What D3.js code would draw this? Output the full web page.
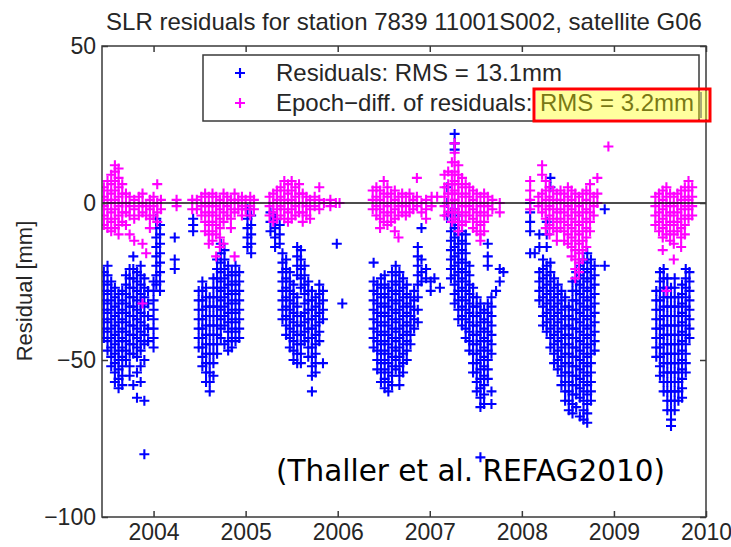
<!DOCTYPE html>
<html><head><meta charset="utf-8">
<script src="https://cdn.jsdelivr.net/npm/d3@7"></script>
<style>body{margin:0;background:#fff}svg{display:block}</style>
</head><body>
<svg id="c" width="731" height="547"></svg>
<script>
const titleText = "SLR residuals for station 7839 11001S002, satellite G06";
const yLabel = "Residual [mm]";
const xTicks = [2004, 2005, 2006, 2007, 2008, 2009, 2010];
const yTicks = [50, 0, -50, -100];
const legendLabels = ["Residuals: RMS = 13.1mm", "Epoch\u2212diff. of residuals: ", "RMS = 3.2mm"];
const note = "(Thaller et al. REFAG2010)";

// Residuals (blue): [epoch year, residuals in mm]
const residuals = [
 [2003.46,[-22,-25,-28,-31,-34,-37,-40,-43]],
 [2003.50,[-20,-23,-26,-29,-32,-35,-38,-41,-44,-47]],
 [2003.54,[-25,-28,-31,-34,-37,-40,-43,-46,-49,-52]],
 [2003.58,[-27,-30,-33,-36,-39,-42,-45,-48,-51,-54,-57]],
 [2003.62,[-29,-32,-35,-38,-41,-44,-47,-50,-53,-56,-59]],
 [2003.66,[-28,-31,-34,-37,-40,-43,-46,-49,-52,-55,-58]],
 [2003.70,[-23,-26,-29,-32,-35,-38,-41,-44,-47,-50]],
 [2003.74,[-21,-24,-27,-30,-33,-36,-39,-42,-45,-48,-52,-55]],
 [2003.78,[-17,-21,-24,-27,-30,-33,-36,-39,-42,-45,-48,-58]],
 [2003.82,[-22,-25,-28,-31,-34,-37,-40,-43,-46,-49,-54,-62]],
 [2003.86,[-20,-23,-26,-29,-32,-35,-38,-41,-44,-47,-52,-57]],
 [2003.90,[-24,-27,-30,-33,-36,-39,-42,-45,-50,-63,-80]],
 [2003.94,[-28,-32,-36,-40,-44]],
 [2004.00,[-25,-28,-31,-34,-37,-40,-43,-46]],
 [2004.03,[-5,-8,-11,-14,-17,-20,-23,-26]],
 [2004.07,[-7,-10,-13,-16,-19,-22,-25,-28]],
 [2004.23,[-11,-18,-21]],
 [2004.43,[-5,-7,-9]],
 [2004.49,[-28,-31,-34,-37,-40,-43,-46]],
 [2004.53,[-25,-28,-31,-34,-37,-40,-43,-46,-49,-52]],
 [2004.57,[-27,-30,-33,-36,-39,-42,-45,-48,-51,-54,-57]],
 [2004.61,[-30,-33,-36,-39,-42,-45,-48,-51,-54,-57,-60]],
 [2004.65,[-24,-27,-30,-33,-36,-39,-42,-45,-48,-51,-55]],
 [2004.69,[-18,-21,-24,-27,-30,-33,-36,-39,-42,-45,-48]],
 [2004.73,[-13,-16,-19,-22,-25,-28,-31,-34,-37,-40,-43]],
 [2004.77,[-15,-18,-21,-24,-27,-30,-33,-36,-39,-45]],
 [2004.81,[-20,-23,-26,-29,-32,-35,-38,-41,-44,-47]],
 [2004.85,[-22,-25,-28,-31,-34,-37,-40,-43,-46]],
 [2004.89,[-20,-23,-26,-29,-32,-35,-38,-41,-44]],
 [2004.93,[-22,-25,-28,-31,-34,-37,-40,-43]],
 [2005.02,[-2,-5,-8,-11,-14]],
 [2005.06,[-4,-7,-10,-13,-16]],
 [2005.27,[-3,-6,-9]],
 [2005.32,[-5,-8,-11,-14]],
 [2005.37,[-7,-10,-13]],
 [2005.40,[-16,-19,-22,-25,-28,-31,-34,-37]],
 [2005.44,[-18,-21,-24,-27,-30,-33,-36,-39,-42]],
 [2005.48,[-22,-25,-28,-31,-34,-37,-40,-43,-46]],
 [2005.52,[-26,-29,-32,-35,-38,-41,-44,-47,-50]],
 [2005.56,[-14,-17,-20,-23,-30,-33,-36,-39,-42,-45,-48,-51]],
 [2005.60,[-15,-18,-21,-24,-27,-36,-39,-42,-45,-48,-51]],
 [2005.64,[-20,-23,-26,-29,-32,-35,-38,-41,-44]],
 [2005.68,[-25,-28,-31,-34,-37,-40,-43,-46,-49]],
 [2005.72,[-28,-31,-34,-37,-40,-43,-46,-49,-52,-55,-60]],
 [2005.76,[-30,-33,-36,-39,-42,-45,-48,-51,-54]],
 [2005.80,[-26,-29,-32,-35,-38,-41,-44]],
 [2005.84,[-28,-31,-34,-37,-51]],
 [2005.99,[-13]],
 [2006.05,[-32]],
 [2006.39,[-19,-25,-28,-31,-34,-37,-40,-43,-46]],
 [2006.43,[-26,-29,-32,-35,-38,-41,-44,-47,-50,-53]],
 [2006.47,[-24,-27,-30,-33,-36,-39,-42,-45,-48,-51,-54,-57]],
 [2006.51,[-23,-26,-29,-32,-35,-38,-41,-44,-47,-50,-53,-56,-59]],
 [2006.55,[-27,-30,-33,-36,-39,-42,-45,-48,-51,-54,-57,-60]],
 [2006.59,[-22,-25,-28,-31,-34,-37,-40,-43,-46,-49,-52,-55,-58]],
 [2006.63,[-20,-23,-26,-29,-32,-35,-38,-41,-44,-47,-50,-53]],
 [2006.67,[-22,-25,-28,-31,-34,-37,-40,-43,-46,-49,-52,-55,-58]],
 [2006.71,[-24,-27,-30,-33,-36,-39,-42,-45,-48,-51,-54]],
 [2006.75,[-26,-29,-32,-35,-38,-41,-44,-47,-50]],
 [2006.79,[-30,-33,-36,-39,-42,-45]],
 [2006.83,[-28,-31,-34,-37,-40]],
 [2006.87,[-14,-17,-20,-23,-26,-30,-34,-38]],
 [2006.91,[-8,-18,-22,-25]],
 [2006.96,[-21,-24]],
 [2007.01,[-25,-28]],
 [2007.05,[-24]],
 [2007.11,[-27]],
 [2007.19,[5,0,-4]],
 [2007.23,[-3,-6,-9,-12,-15,-18,-21,-24]],
 [2007.27,[22,19,17,-2,-5,-8,-11,-14,-17,-20,-23,-26,-29,-32]],
 [2007.31,[-4,-7,-10,-13,-16,-19,-22,-25,-28,-31,-34,-37]],
 [2007.35,[-6,-9,-12,-15,-18,-21,-24,-27,-30,-33,-36,-39]],
 [2007.39,[-10,-13,-16,-19,-22,-25,-28,-31,-34,-37,-40,-43]],
 [2007.43,[-20,-23,-26,-29,-32,-35,-38,-41,-44,-47]],
 [2007.47,[-27,-30,-33,-36,-39,-42,-45,-48,-51,-54]],
 [2007.51,[-30,-33,-36,-39,-42,-45,-48,-51,-54,-57,-60]],
 [2007.55,[-32,-35,-38,-41,-44,-47,-50,-53,-56,-59,-62,-65,-81]],
 [2007.59,[-34,-37,-40,-43,-46,-49,-52,-55,-58,-61,-64]],
 [2007.63,[-13,-17,-20,-32,-35,-38,-41,-44,-47,-50,-53,-56]],
 [2007.67,[-30,-33,-36,-39,-42,-45,-48,-60,-64]],
 [2007.72,[-28]],
 [2007.76,[-21,-25]],
 [2007.80,[-22]],
 [2008.09,[0,-3,-6,-9,-16]],
 [2008.14,[-16]],
 [2008.19,[-10,-14,-22,-25,-28,-31]],
 [2008.23,[-18,-21,-24,-27,-30,-33,-36,-39]],
 [2008.27,[-6,-10,-14,-20,-23,-26,-29,-32,-35,-38,-41]],
 [2008.31,[8,5,-19,-22,-25,-28,-31,-34,-37,-40,-43,-46]],
 [2008.35,[-24,-27,-30,-33,-36,-39,-42,-45,-48,-51]],
 [2008.39,[-26,-29,-32,-35,-38,-41,-44,-47,-50,-53]],
 [2008.43,[-28,-31,-34,-37,-40,-43,-46,-49,-52,-55,-58]],
 [2008.47,[-30,-33,-36,-39,-42,-45,-48,-51,-54,-57,-60,-63]],
 [2008.51,[-33,-36,-39,-42,-45,-48,-51,-54,-57,-60,-63,-66]],
 [2008.55,[-25,-28,-31,-34,-37,-40,-43,-46,-49,-52,-55,-58,-61,-64,-67]],
 [2008.59,[-22,-25,-28,-31,-34,-37,-40,-43,-46,-49,-52,-55,-58,-61,-65]],
 [2008.63,[-20,-23,-26,-29,-32,-35,-38,-41,-44,-47,-50,-53,-56,-59,-62,-68]],
 [2008.67,[-18,-21,-24,-27,-30,-33,-36,-39,-42,-45,-48,-51,-54,-57,-60,-63,-66,-69]],
 [2008.71,[-16,-19,-22,-25,-28,-31,-34,-37,-40,-43,-46,-49,-52,-55,-58,-61,-64,-67,-70]],
 [2008.75,[-18,-21,-24,-27,-30,-33,-36,-39,-42,-45,-48,-51,-54,-57,-60,-63]],
 [2008.79,[-20,-23,-26,-29,-32,-35,-38,-41,-44,-47]],
 [2008.90,[-2,-20]],
 [2009.46,[-28,-31,-34,-37,-40,-43,-46,-49]],
 [2009.50,[-22,-25,-28,-31,-34,-37,-40,-43,-46,-49,-52,-55]],
 [2009.54,[-21,-24,-27,-30,-33,-36,-39,-42,-45,-48,-51,-54,-57,-60]],
 [2009.58,[-24,-27,-30,-33,-36,-39,-42,-45,-48,-51,-54,-57,-60,-63,-66]],
 [2009.62,[-27,-30,-33,-36,-39,-42,-45,-48,-51,-54,-57,-60,-63,-66,-69,-71]],
 [2009.66,[-24,-27,-30,-33,-36,-39,-42,-45,-48,-51,-54,-57,-60,-63,-66]],
 [2009.70,[-30,-33,-36,-39,-42,-45,-48,-51,-54,-57,-60,-63]],
 [2009.74,[-26,-29,-32,-35,-38,-41,-44,-47,-50,-53,-56,-59,-62]],
 [2009.78,[-21,-24,-27,-30,-33,-36,-39,-42,-45,-48,-51,-54]],
 [2009.82,[-22,-25,-28,-31,-34,-37,-40,-43]]
];

// Epoch-differences of residuals (magenta): [epoch year, values in mm]
const epochDiffs = [
 [2003.46,[5,2,-1,-4,-7]],
 [2003.50,[7,4,1,-2,-5,-8]],
 [2003.54,[9,6,3,0,-3,-6,-9]],
 [2003.58,[12,10,7,4,1,-2,-5,-8]],
 [2003.62,[11,8,5,2,-1,-4,-7,-10]],
 [2003.66,[6,3,0,-3,-6]],
 [2003.70,[3,0,-3,-7]],
 [2003.74,[2,-1,-4,-10]],
 [2003.79,[1,-2,-5,-12]],
 [2003.84,[2,-1,-4]],
 [2003.88,[3,0,-3,-13,-32]],
 [2003.92,[-1,-4,-16]],
 [2003.96,[1,-2,-5,-8]],
 [2004.00,[2,-1,-4]],
 [2004.04,[6,0,-3,-6]],
 [2004.08,[1,-2]],
 [2004.25,[1,-1]],
 [2004.42,[1,-2]],
 [2004.47,[1,-2]],
 [2004.52,[2,-1,-4]],
 [2004.56,[3,0,-3,-6,-9]],
 [2004.60,[2,-1,-4,-7,-10,-13]],
 [2004.64,[3,0,-3,-6,-9,-12]],
 [2004.68,[2,-1,-4,-7,-10,-17]],
 [2004.72,[1,-2,-5,-8,-11,-14]],
 [2004.76,[3,0,-3,-6,-13]],
 [2004.80,[2,-1,-4]],
 [2004.84,[1,-2,-5,-8]],
 [2004.88,[3,0,-3,-17]],
 [2004.92,[1,-2]],
 [2004.96,[2,-1,-4]],
 [2005.00,[1,-2]],
 [2005.05,[2,-1,-4]],
 [2005.09,[1,-2]],
 [2005.26,[2,-1,-4]],
 [2005.30,[3,0,-3,-6]],
 [2005.34,[4,1,-2,-5]],
 [2005.38,[5,2,-1,-4]],
 [2005.42,[7,4,1,-2,-5]],
 [2005.46,[6,3,0,-3,-6]],
 [2005.50,[7,4,1,-2,-5]],
 [2005.54,[5,2,-1,-4]],
 [2005.58,[6,3,0,-3]],
 [2005.62,[3,0,-3,-6]],
 [2005.66,[2,-1,-4]],
 [2005.70,[1,-2,-5]],
 [2005.75,[2,-1]],
 [2005.80,[5,1,-2]],
 [2005.85,[0]],
 [2005.92,[1,-1]],
 [2005.98,[0]],
 [2006.02,[0]],
 [2006.38,[4,1,-2]],
 [2006.42,[5,2,-1,-4]],
 [2006.46,[4,1,-2,-5,-8]],
 [2006.50,[7,3,0,-3,-6]],
 [2006.54,[5,2,-1,-4,-7]],
 [2006.58,[3,0,-3,-6]],
 [2006.62,[4,1,-2,-5,-9]],
 [2006.66,[2,-1,-4,-11]],
 [2006.70,[3,0,-3]],
 [2006.74,[2,-1,-4]],
 [2006.78,[3,0,-3]],
 [2006.82,[1,-2]],
 [2006.86,[8,2,-1]],
 [2006.91,[0,-3]],
 [2006.96,[1,-2,-5]],
 [2007.02,[2,-1]],
 [2007.08,[2]],
 [2007.16,[9,5,2,-1,-4]],
 [2007.20,[10,6,3,0,-3]],
 [2007.24,[13,9,6,3,0,-3,-6]],
 [2007.27,[19,16,13,10,7,4,1,-2,-5]],
 [2007.31,[12,9,6,3,0,-3,-6,-9]],
 [2007.35,[8,5,2,-1,-4,-7]],
 [2007.39,[6,3,0,-3,-6]],
 [2007.43,[5,2,-1,-4]],
 [2007.47,[4,1,-2,-5,-8]],
 [2007.51,[3,0,-3,-6,-9]],
 [2007.55,[2,-1,-4,-7,-10,-12]],
 [2007.59,[3,0,-3,-6,-9]],
 [2007.63,[2,-1,-4]],
 [2007.68,[1,-2]],
 [2007.76,[0,-3]],
 [2008.09,[7,4,1,-2]],
 [2008.18,[2,-1]],
 [2008.22,[12,9,3,0,-3]],
 [2008.26,[7,4,1,-2,-5,-8]],
 [2008.30,[5,2,-1,-4,-7,-10]],
 [2008.34,[4,1,-2,-5,-8]],
 [2008.38,[3,0,-3,-6,-9,-12]],
 [2008.42,[4,1,-2,-5,-8]],
 [2008.46,[3,0,-3,-6,-9,-12]],
 [2008.50,[5,2,-1,-4,-7,-10,-13]],
 [2008.54,[4,1,-2,-5,-8,-11,-14,-17]],
 [2008.58,[3,0,-3,-6,-9,-12,-15,-18,-21,-24]],
 [2008.62,[2,-1,-4,-7,-10,-13,-16,-19,-22]],
 [2008.66,[3,0,-3,-6,-9,-12,-15,-18]],
 [2008.70,[4,1,-2,-5,-8,-11,-14]],
 [2008.74,[6,3,0,-3,-6,-9]],
 [2008.78,[2,-1,-4]],
 [2008.82,[8,3,0]],
 [2008.94,[18]],
 [2009.45,[2,-1,-4,-7]],
 [2009.49,[3,0,-3,-6,-9]],
 [2009.53,[4,1,-2,-5,-8,-11,-15]],
 [2009.57,[5,2,-1,-4,-7,-10,-28]],
 [2009.61,[3,0,-3,-6,-9,-12]],
 [2009.65,[2,-1,-4,-7,-10,-13,-18]],
 [2009.69,[3,0,-3,-6,-9]],
 [2009.73,[4,1,-2,-5,-8,-11,-14]],
 [2009.77,[5,2,-1,-4,-7,-10]],
 [2009.81,[7,4,1,-2,-5]],
 [2009.85,[5,2,-1,-4]]
];

const svg = d3.select("#c");
const L = 102, R = 706, T = 46, B = 517;
const x = d3.scaleLinear().domain([2003.44, 2010]).range([L, R]);
const y = d3.scaleLinear().domain([-100, 50]).range([B, T]);
const FONT = "'Liberation Sans', Arial, sans-serif";
const axisCol = "#3a3a3a", textCol = "#262626";
const plus = "M-5,0H5M0,-5V5";
const SW = 2.1;

const flat = cols => cols.flatMap(([t, vs]) => vs.map(v => ({t, v})));

// title
svg.append("text").attr("x", 404).attr("y", 30).attr("text-anchor", "middle")
  .attr("font-family", FONT).attr("font-size", 24).attr("fill", textCol).text(titleText);

// clip
svg.append("clipPath").attr("id", "pc").append("rect").attr("x", L).attr("y", T).attr("width", R - L).attr("height", B - T);
const plot = svg.append("g").attr("clip-path", "url(#pc)");

plot.append("g").selectAll("path").data(flat(residuals)).join("path")
  .attr("transform", d => `translate(${x(d.t)},${y(d.v)})`)
  .attr("d", plus).attr("stroke", "#0000ff").attr("stroke-width", SW).attr("fill", "none");
plot.append("g").selectAll("path").data(flat(epochDiffs)).join("path")
  .attr("transform", d => `translate(${x(d.t)},${y(d.v)})`)
  .attr("d", plus).attr("stroke", "#ff00ff").attr("stroke-width", SW).attr("fill", "none");

// zero line
plot.append("line").attr("x1", L).attr("x2", R).attr("y1", y(0)).attr("y2", y(0))
  .attr("stroke", "#111").attr("stroke-width", 1.5);

// axes
const styleAxis = g => {
  g.select(".domain").remove();
  g.selectAll(".tick line").attr("stroke", axisCol).attr("stroke-width", 1.5);
  g.selectAll(".tick text").attr("font-family", FONT).attr("font-size", 23).attr("fill", textCol);
};
svg.append("g").attr("transform", `translate(0,${B})`)
  .call(d3.axisBottom(x).tickValues(xTicks).tickFormat(d3.format("d")).tickSizeInner(-6).tickSizeOuter(0).tickPadding(7))
  .call(styleAxis);
svg.append("g").attr("transform", `translate(0,${T})`)
  .call(d3.axisTop(x).tickValues(xTicks).tickFormat("").tickSizeInner(-6).tickSizeOuter(0))
  .call(styleAxis);
svg.append("g").attr("transform", `translate(${L},0)`)
  .call(d3.axisLeft(y).tickValues(yTicks).tickSizeInner(-6).tickSizeOuter(0).tickPadding(6))
  .call(styleAxis);
svg.append("g").attr("transform", `translate(${R},0)`)
  .call(d3.axisRight(y).tickValues(yTicks).tickFormat("").tickSizeInner(-6).tickSizeOuter(0))
  .call(styleAxis);
svg.append("rect").attr("x", L).attr("y", T).attr("width", R - L).attr("height", B - T)
  .attr("fill", "none").attr("stroke", axisCol).attr("stroke-width", 1.5);

// y label
svg.append("text").attr("transform", "translate(32,291) rotate(-90)").attr("text-anchor", "middle")
  .attr("font-family", FONT).attr("font-size", 22).attr("fill", textCol).text(yLabel);

// legend
const lg = svg.append("g");
lg.append("rect").attr("x", 203).attr("y", 55).attr("width", 496).attr("height", 66)
  .attr("fill", "#fff").attr("stroke", axisCol).attr("stroke-width", 1.5);
lg.append("path").attr("transform", "translate(240,73)").attr("d", plus).attr("stroke", "#0000ff").attr("stroke-width", SW);
lg.append("path").attr("transform", "translate(240,103)").attr("d", plus).attr("stroke", "#ff00ff").attr("stroke-width", SW);
lg.append("text").attr("x", 276).attr("y", 81).attr("font-family", FONT).attr("font-size", 24).attr("fill", textCol).text(legendLabels[0]);
const t2 = lg.append("text").attr("x", 276).attr("y", 111).attr("font-family", FONT).attr("font-size", 24).attr("fill", textCol);
t2.append("tspan").text(legendLabels[1]);
t2.append("tspan").attr("x", 540).text(legendLabels[2]);
// highlight + red box
lg.append("rect").attr("x", 536).attr("y", 91).attr("width", 172).attr("height", 28)
  .attr("fill", "#ffff00").attr("opacity", 0.38);
lg.append("line").attr("x1", 701).attr("x2", 701).attr("y1", 92).attr("y2", 118).attr("stroke", "#555").attr("stroke-width", 1);
lg.append("rect").attr("x", 534).attr("y", 89).attr("width", 176).attr("height", 32)
  .attr("fill", "none").attr("stroke", "#ff0000").attr("stroke-width", 3);

// note
svg.append("text").attr("x", 276).attr("y", 481).attr("font-family", "'DejaVu Sans', Verdana, sans-serif")
  .attr("font-size", 29.5).attr("fill", "#000").text(note);
</script>
</body></html>
